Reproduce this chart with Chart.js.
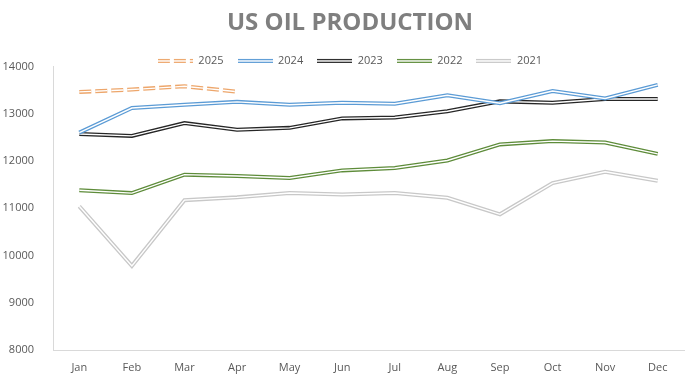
<!DOCTYPE html>
<html lang="en">

<head>
  <meta charset="UTF-8">
  <title>US Oil Production</title>
  <script src="https://cdn.jsdelivr.net/npm/chart.js@4.4.0/dist/chart.umd.min.js"></script>
  <style>
    body { margin: 0; background: #fff; }
  </style>
</head>

<body>
  <canvas id="chart" width="700" height="391"></canvas>
  <script>
    const months = ['Jan', 'Feb', 'Mar', 'Apr', 'May', 'Jun', 'Jul', 'Aug', 'Sep', 'Oct', 'Nov', 'Dec'];
    const years = ['2025', '2024', '2023', '2022', '2021'];
    const prod2025 = [13460, 13510, 13580, 13465];
    const prod2024 = [12600, 13120, 13190, 13250, 13190, 13230, 13210, 13390, 13220, 13480, 13320, 13610];
    const prod2023 = [12570, 12530, 12800, 12660, 12700, 12900, 12920, 13050, 13260, 13230, 13310, 13310];
    const prod2022 = [11380, 11320, 11710, 11680, 11640, 11800, 11850, 12010, 12350, 12420, 12390, 12150];
    const prod2021 = [11040, 9780, 11170, 11230, 11320, 11290, 11320, 11220, 10870, 11530, 11770, 11580];
    const colors = ['#eda66b', '#5b9bd5', '#262626', '#5e8c3a', '#c8c8c8'];
    const series = [prod2025, prod2024, prod2023, prod2022, prod2021];

    const dash2025 = [12, 4];

    // little canvas used as the legend swatch (double line)
    function swatch(color, dash) {
      const c = document.createElement('canvas');
      c.width = 35;
      c.height = 8;
      const g = c.getContext('2d');
      g.setLineDash(dash);
      g.lineWidth = 4;
      g.strokeStyle = color;
      g.beginPath(); g.moveTo(0, 4); g.lineTo(35, 4); g.stroke();
      g.lineWidth = 1.4;
      g.strokeStyle = '#fff';
      g.beginPath(); g.moveTo(0, 4); g.lineTo(35, 4); g.stroke();
      return c;
    }

    const datasets = [];
    series.forEach((data, i) => {
      const dash = i === 0 ? dash2025 : [];
      // outer coloured stroke
      datasets.push({
        label: years[i],
        data: data,
        borderColor: colors[i],
        borderWidth: 4,
        borderDash: dash,
        pointRadius: 0,
        tension: 0,
        fill: false,
        order: 2 * i + 1
      });
      // white core, makes it a double line
      datasets.push({
        label: '',
        data: data,
        borderColor: '#ffffff',
        borderWidth: 1.4,
        borderDash: dash,
        pointRadius: 0,
        tension: 0,
        fill: false,
        order: 2 * i
      });
    });

    const font = "'Open Sans', sans-serif";

    new Chart(document.getElementById('chart'), {
      type: 'line',
      data: { labels: months, datasets: datasets },
      options: {
        responsive: false,
        animation: false,
        layout: { padding: 0 },
        plugins: {
          title: {
            display: true,
            text: 'US OIL PRODUCTION',
            color: '#7f7f7f',
            font: { family: font, size: 24, weight: 'bold' },
            padding: { top: 9, bottom: 3.6 }
          },
          legend: {
            display: true,
            maxHeight: 25,
            labels: {
              color: '#595959',
              font: { family: font, size: 11 },
              usePointStyle: true,
              pointStyleWidth: 35,
              boxHeight: 8,
              padding: 14,
              generateLabels: chart => years.map((y, i) => ({
                text: y,
                pointStyle: swatch(colors[i], i === 0 ? dash2025 : []),
                fillStyle: colors[i],
                strokeStyle: colors[i],
                lineWidth: 0,
                fontColor: '#595959',
                hidden: false,
                datasetIndex: 2 * i
              }))
            }
          },
          tooltip: { enabled: false }
        },
        scales: {
          x: {
            offset: true,
            grid: { display: false },
            border: { display: true, color: '#d9d9d9' },
            ticks: { color: '#595959', font: { family: font, size: 11 }, padding: 3 },
            afterFit: s => { s.height = 41; }
          },
          y: {
            min: 8000,
            max: 14000,
            grid: { display: false },
            border: { display: true, color: '#d9d9d9' },
            ticks: {
              stepSize: 1000,
              color: '#595959',
              font: { family: font, size: 11 },
              padding: 11,
              callback: v => String(v)
            },
            afterFit: s => { s.width = 53; }
          },
          // empty right margin so title and legend stay centred on the page
          yRight: {
            position: 'right',
            min: 8000,
            max: 14000,
            grid: { display: false },
            border: { display: false },
            ticks: { display: false },
            afterFit: s => { s.width = 16; }
          }
        }
      }
    });
  </script>
</body>

</html>
